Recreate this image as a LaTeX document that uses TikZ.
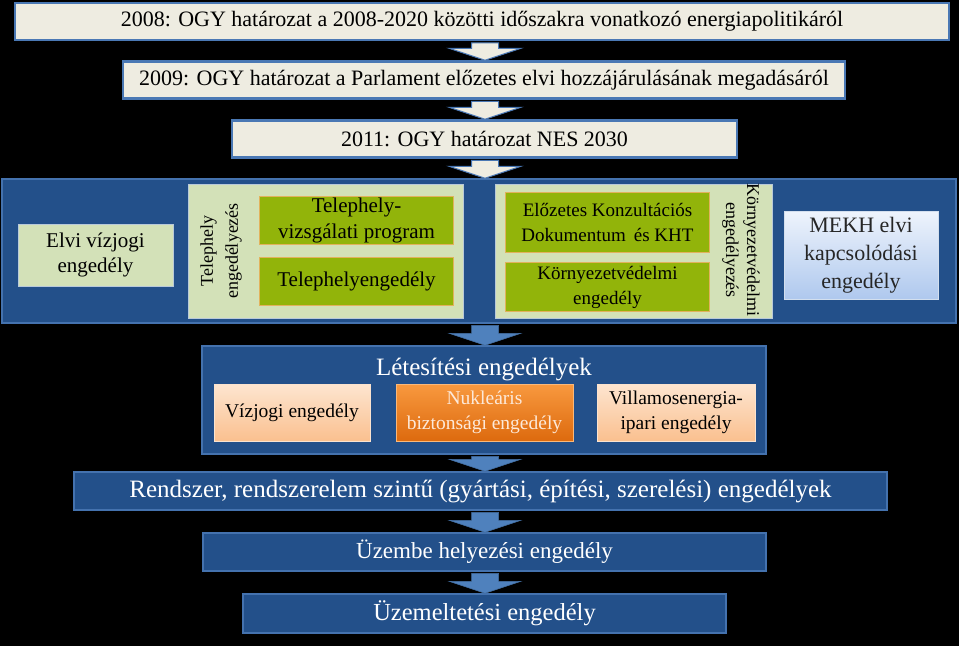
\documentclass[tikz,border=0pt]{standalone}
\usepackage{fontspec}
\setmainfont{Liberation Serif}
\usetikzlibrary{calc}

\definecolor{bgbeige}{HTML}{EEECE1}
\definecolor{edgeblue}{HTML}{4A78B4}
\definecolor{deepblue}{HTML}{23508A}
\definecolor{lineblue}{HTML}{4472AE}
\definecolor{palegreen}{HTML}{D3E1B8}
\definecolor{panelline}{HTML}{B8C9D9}
\definecolor{leafgreen}{HTML}{92B40A}
\definecolor{tanedge}{HTML}{E2B25C}
\definecolor{peachtop}{HTML}{FDE5D0}
\definecolor{peachbot}{HTML}{FAC08F}
\definecolor{peachline}{HTML}{FBE3CF}
\definecolor{orangetop}{HTML}{F8993F}
\definecolor{orangebot}{HTML}{DD6A0E}
\definecolor{cream}{HTML}{FDE9D9}
\definecolor{mekhtop}{HTML}{EEF4FC}
\definecolor{mekhbot}{HTML}{AFC8EE}
\definecolor{flowblue}{HTML}{4F81BD}

% block arrow along the middle line, from the bottom of #2 to the top of #3
\newcommand{\downblock}[3][paleflow]{%
	\path[#1] let \p1=(mid |- #2.south), \p2=(mid |- #3.north) in
		(\x1-13.5pt,\y1-1.5pt) -- (\x1+13.5pt,\y1-1.5pt) -- (\x1+13.5pt,\y2+12pt)
		-- (\x1+36pt,\y2+12pt) -- (\x1,\y2) -- (\x1-36pt,\y2+12pt)
		-- (\x1-13.5pt,\y2+12pt) -- cycle;}

\begin{document}
\begin{tikzpicture}[x=1pt,y=-1pt,
	box/.style={inner sep=0pt, align=center},
	topbox/.style={box, draw=edgeblue, line width=2.5pt, fill=bgbeige, minimum height=37pt, font=\fontsize{22}{26}\selectfont},
	navybox/.style={box, draw=lineblue, line width=1.5pt, fill=deepblue, text=white, font=\fontsize{23}{28}\selectfont},
	greenpanel/.style={box, draw=panelline, line width=1pt, fill=palegreen},
	leafbox/.style={box, draw=tanedge, line width=0.8pt, fill=leafgreen},
	peachbox/.style={box, draw=peachline, line width=1pt, top color=peachtop, bottom color=peachbot, minimum height=57pt, font=\fontsize{19.5}{25}\selectfont},
	paleflow/.style={fill=bgbeige, draw=edgeblue, line width=1pt},
	blueflow/.style={fill=flowblue, draw=flowblue!85!black, line width=0.5pt}]
	\fill[black] (0,0) rectangle (959,646);
	\coordinate (mid) at (485,0);
	%decisions
	\node[topbox, minimum width=934pt] (d2008) at (482,21.5) {2008: OGY határozat a 2008-2020 közötti időszakra vonatkozó energiapolitikáról};
	\node[topbox, minimum width=722pt] (d2009) at (484,80) {2009: OGY határozat a Parlament előzetes elvi hozzájárulásának megadásáról};
	\node[topbox, minimum width=505pt] (d2011) at (484.5,139) {2011: OGY határozat NES 2030};
	%preparation
	\node[navybox, minimum width=954pt, minimum height=144pt] (elokeszit) at (479,251) {};
	\node[greenpanel, minimum width=155pt, minimum height=62pt, font=\fontsize{21}{25}\selectfont] (elvi) at (95.5,255) {Elvi vízjogi\\engedély};
	\node[greenpanel, minimum width=275pt, minimum height=134pt] (telep) at (326,251.5) {};
	\node[box, rotate=90, font=\fontsize{18}{25}\selectfont] (teleplbl) at (221,251) {Telephely\\engedélyezés};
	\node[leafbox, minimum width=194pt, minimum height=48pt, font=\fontsize{21}{26}\selectfont] (telvizs) at (356.5,220.5) {Telephely-\\vizsgálati program};
	\node[leafbox, minimum width=194pt, minimum height=48pt, font=\fontsize{21}{26}\selectfont] (telenged) at (356.5,281.5) {Telephelyengedély};
	\node[greenpanel, minimum width=277pt, minimum height=134pt] (korny) at (634,251.5) {};
	\node[box, rotate=-90, font=\fontsize{18}{21}\selectfont] (kornylbl) at (741,250) {Környezetvédelmi\\engedélyezés};
	\node[leafbox, minimum width=204pt, minimum height=60pt, font=\fontsize{19}{25}\selectfont] (elozetes) at (607.5,222.5) {Előzetes Konzultációs\\Dokumentum\, és KHT};
	\node[leafbox, minimum width=204pt, minimum height=49pt, font=\fontsize{19}{25}\selectfont] (kornyeng) at (607.5,287) {Környezetvédelmi\\engedély};
	\node[box, draw=white!75!flowblue, line width=1pt, top color=mekhtop, bottom color=mekhbot, minimum width=154pt, minimum height=88pt, font=\fontsize{22}{28}\selectfont, text=black!85] (mekh) at (861,255) {MEKH elvi\\kapcsolódási\\engedély};
	%construction
	\node[navybox, minimum width=564pt, minimum height=108pt] (letes) at (484,400) {};
	\node[text=white, font=\fontsize{25}{30}\selectfont] (letescim) at (484,369) {Létesítési engedélyek};
	\node[peachbox, minimum width=156pt] (vizjog) at (292,412.5) {Vízjogi engedély};
	\node[box, draw=orangetop!70!white, line width=1pt, top color=orangetop, bottom color=orangebot, text=cream, minimum width=177pt, minimum height=57pt, font=\fontsize{19.5}{25}\selectfont] (nukl) at (484.5,412.5) {Nukleáris\\biztonsági engedély};
	\node[peachbox, minimum width=158pt] (villam) at (676,412.5) {Villamosenergia-\\ipari engedély};
	%operation
	\node[navybox, minimum width=813pt, minimum height=38pt, font=\fontsize{25}{28}\selectfont] (rendsz) at (480.5,491) {Rendszer, rendszerelem szintű (gyártási, építési, szerelési) engedélyek};
	\node[navybox, minimum width=563pt, minimum height=38pt] (uzembe) at (484.5,552) {Üzembe helyezési engedély};
	\node[navybox, minimum width=483pt, minimum height=39pt, font=\fontsize{24.5}{28}\selectfont] (uzemel) at (484.5,613.5) {Üzemeltetési engedély};
	%arrows
	\downblock{d2008}{d2009}
	\downblock{d2009}{d2011}
	\downblock{d2011}{elokeszit}
	\downblock[blueflow]{elokeszit}{letes}
	\downblock[blueflow]{letes}{rendsz}
	\downblock[blueflow]{rendsz}{uzembe}
	\downblock[blueflow]{uzembe}{uzemel}
\end{tikzpicture}
\end{document}
